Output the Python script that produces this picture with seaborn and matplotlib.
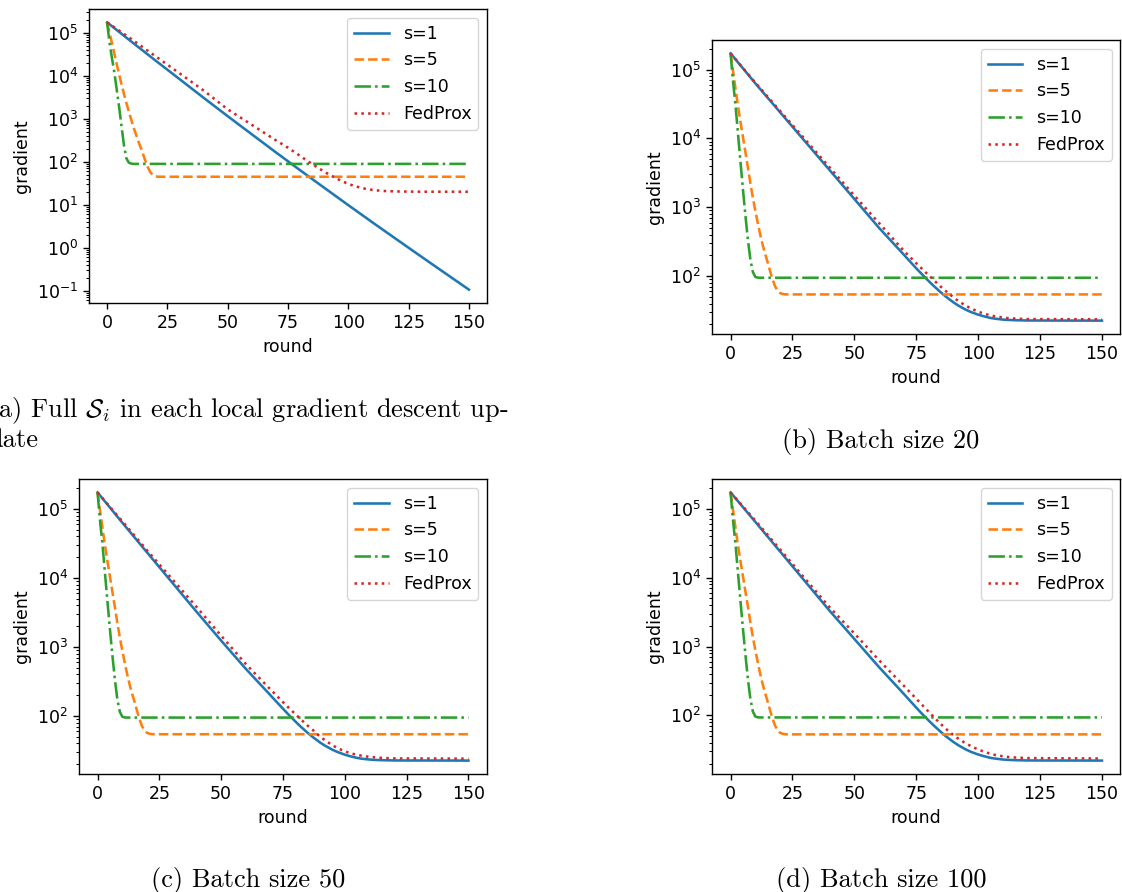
import matplotlib
matplotlib.use("Agg")
import matplotlib.pyplot as plt
import pandas as pd
import seaborn as sns

# ---------------------------------------------------------------------------
# Gradient norm per communication round (log scale), four local-update settings
# ---------------------------------------------------------------------------
LABELS = ["s=1", "s=5", "s=10", "FedProx"]
COLORS = ["#1f77b4", "#ff7f0e", "#2ca02c", "#d62728"]
STYLES = ["-", "--", "-.", ":"]

# round indices at which each curve is recorded
ROUNDS_S10 = [0, 1, 2, 3, 4, 5, 6, 7, 8, 9, 10, 11, 12, 150]
ROUNDS_S5 = [0, 1, 2, 3, 4, 5, 6, 7, 8, 9, 10, 11, 12, 13, 14, 15, 16, 17,
             18, 19, 20, 21, 22, 23, 150]
ROUNDS_S1_FULL = [0, 10, 20, 30, 40, 50, 60, 70, 80, 90, 100, 110, 120, 130,
                  140, 150]
ROUNDS_KNEE = [0, 10, 20, 30, 40, 50, 60, 70,
               72, 75, 77, 80, 82, 85, 87, 90, 92, 95, 97, 100, 102, 105, 107,
               110, 112, 115,
               120, 150]
ROUNDS_PROX_FULL = [0, 10, 20, 30, 40, 50, 60, 70,
                    72, 75, 77, 80, 82, 85, 87, 90, 92, 95, 97, 100, 102, 105,
                    107, 110, 112, 115,
                    120, 130, 150]

# (a) full local dataset
A_S1 = [1.76e5, 6.31e4, 2.29e4, 8.43e3, 3.09e3, 1.15e3, 435, 165, 63.5, 24.8,
        9.75, 3.87, 1.56, 0.631, 0.257, 0.105]
A_S5 = [1.76e5, 1.00e5, 5.89e4, 3.31e4, 1.86e4, 1.07e4, 6.31e3, 3.80e3,
        2.34e3, 1.48e3, 955, 631, 427, 295, 209, 145, 100, 72.4, 56.2, 49.0,
        45.7, 44.9, 44.7, 44.7, 44.7]
A_S10 = [1.76e5, 6.03e4, 2.63e4, 1.20e4, 4.79e3, 1.86e3, 661, 240, 120, 95.5,
         90.2, 89.1, 89.1, 89.1]
A_PROX = [1.76e5, 7.24e4, 2.88e4, 1.15e4, 4.57e3, 1.66e3, 724, 315,
          269, 212, 178.1, 137, 114.5, 88.5, 74.9, 58.9, 50.6, 41.0, 36.1,
          30.5, 27.8, 24.9, 23.5, 22.1, 21.45, 20.8,
          20.3, 20.05, 20.0]

# (b) batch size 20
B_S1 = [1.72e5, 6.31e4, 2.40e4, 9.12e3, 3.47e3, 1.32e3, 501, 205,
        170.5, 130, 109.4, 85.0, 72.4, 57.8, 50.3, 41.7, 37.4, 32.6, 30.2,
        27.6, 26.3, 24.7, 24.1, 23.4, 23.15, 22.9,
        22.7, 22.6]
B_S5 = [1.72e5, 9.55e4, 5.25e4, 2.95e4, 1.74e4, 1.05e4, 6.31e3, 3.80e3,
        2.24e3, 1.38e3, 891, 589, 398, 282, 209, 158, 117, 89.1, 70.8, 61.7,
        56.9, 55.2, 54.5, 54.3, 54.3]
B_S10 = [1.72e5, 6.76e4, 3.02e4, 1.17e4, 4.57e3, 1.82e3, 759, 339, 174, 115,
         97.7, 95.1, 94.8, 94.8]
B_PROX = [1.72e5, 6.46e4, 2.51e4, 9.77e3, 3.80e3, 1.48e3, 589, 233,
          197.4, 154, 131.1, 103, 88.1, 69.8, 60.5, 49.3, 43.6, 37.2, 34.1,
          30.5, 28.8, 26.9, 26.0, 25.1, 24.6, 24.2,
          23.8, 23.6]

# (c) batch size 50
C_S1 = [1.73e5, 6.31e4, 2.34e4, 8.71e3, 3.24e3, 1.23e3, 479, 198,
        165.3, 127, 106.5, 83.0, 70.7, 56.7, 49.5, 41.1, 37.0, 32.3, 30.0,
        27.4, 26.1, 24.6, 23.9, 23.3, 23.0, 22.8,
        22.6, 22.5]
C_S5 = [1.73e5, 9.55e4, 5.25e4, 2.95e4, 1.74e4, 1.05e4, 6.31e3, 3.80e3,
        2.24e3, 1.38e3, 891, 589, 398, 282, 209, 158, 117, 89.1, 70.8, 61.6,
        56.8, 55.1, 54.4, 54.2, 54.2]
C_S10 = [1.73e5, 6.76e4, 3.02e4, 1.17e4, 4.57e3, 1.82e3, 759, 339, 174, 115,
         97.4, 94.8, 94.5, 94.5]
C_PROX = [1.73e5, 6.61e4, 2.51e4, 9.77e3, 3.80e3, 1.45e3, 562, 240,
          203, 158, 134.4, 106, 90.6, 72.0, 62.8, 50.0, 44.3, 37.5, 34.2,
          30.6, 29.0, 27.2, 26.4, 25.4, 25.1, 24.6,
          24.2, 24.0]

# (d) batch size 100
D_S1 = [1.73e5, 6.46e4, 2.40e4, 8.91e3, 3.31e3, 1.29e3, 501, 205,
        170.6, 130, 108.6, 84.5, 71.8, 57.3, 49.8, 41.2, 36.9, 32.1, 29.7,
        27.1, 25.8, 24.2, 23.6, 22.9, 22.65, 22.4,
        22.2, 22.1]
D_S5 = [1.73e5, 9.55e4, 5.25e4, 2.95e4, 1.74e4, 1.05e4, 6.31e3, 3.80e3,
        2.24e3, 1.38e3, 891, 589, 398, 282, 209, 158, 117, 89.1, 70.8, 60.9,
        56.0, 54.2, 53.4, 53.1, 53.1]
D_S10 = [1.73e5, 6.76e4, 3.02e4, 1.17e4, 4.57e3, 1.82e3, 759, 339, 174, 114,
         96.5, 93.8, 93.5, 93.5]
D_PROX = [1.73e5, 6.76e4, 2.57e4, 9.77e3, 3.72e3, 1.55e3, 631, 269,
          226.1, 175, 147, 113, 95.4, 74.5, 63.8, 51.8, 46.0, 39.3, 36.0,
          32.0, 30.1, 27.7, 26.6, 25.5, 25.0, 24.5,
          24.0, 23.7]

X_TICKS = [0, 25, 50, 75, 100, 125, 150]

CAPTION_A = [r"(a) Full $\mathcal{S}_i$ in each local gradient descent up-",
             "date"]
CAPTION_B = "(b) Batch size 20"
CAPTION_C = "(c) Batch size 50"
CAPTION_D = "(d) Batch size 100"


def long_frame(s1, s5, s10, prox, rounds_s1, rounds_prox):
    parts = []
    for label, rounds, vals in zip(
            LABELS,
            [rounds_s1, ROUNDS_S5, ROUNDS_S10, rounds_prox],
            [s1, s5, s10, prox]):
        parts.append(pd.DataFrame({"round": rounds, "gradient": vals,
                                   "method": label}))
    return pd.concat(parts, ignore_index=True)


PANELS = [
    long_frame(A_S1, A_S5, A_S10, A_PROX, ROUNDS_S1_FULL, ROUNDS_PROX_FULL),
    long_frame(B_S1, B_S5, B_S10, B_PROX, ROUNDS_KNEE, ROUNDS_KNEE),
    long_frame(C_S1, C_S5, C_S10, C_PROX, ROUNDS_KNEE, ROUNDS_KNEE),
    long_frame(D_S1, D_S5, D_S10, D_PROX, ROUNDS_KNEE, ROUNDS_KNEE),
]

# ---------------------------------------------------------------------------
plt.rcParams.update({
    "font.size": 12.5,
    "axes.linewidth": 1.0,
    "xtick.major.width": 1.0,
    "ytick.major.width": 1.0,
    "ytick.minor.width": 0.75,
    "xtick.major.size": 4.4,
    "ytick.major.size": 4.4,
    "ytick.minor.size": 2.5,
    "lines.linewidth": 1.85,
    "legend.fontsize": 12.5,
})

W, H = 1122, 892
fig = plt.figure(figsize=(W / 100, H / 100), dpi=100)


def box(left, top, right, bottom):
    return [left / W, 1 - bottom / H, (right - left) / W, (bottom - top) / H]


AXES_BOXES = [box(89, 9, 487, 303), box(712, 40, 1120.5, 334),
              box(79, 479, 487, 774), box(712, 479, 1120.5, 774)]

for frame, rect in zip(PANELS, AXES_BOXES):
    ax = fig.add_axes(rect)
    ax.set_yscale("log")
    for label, color, ls in zip(LABELS, COLORS, STYLES):
        sub = frame[frame["method"] == label]
        sns.lineplot(data=sub, x="round", y="gradient", ax=ax, color=color,
                     linestyle=ls, label=label, estimator=None, sort=True)
    ax.set_xticks(X_TICKS)
    ax.set_xlabel("round")
    ax.set_ylabel("gradient")
    ax.legend(loc="upper right")

cap = dict(family="cmr10", fontsize=19, math_fontfamily="cm")
fig.text(-12 / W, 1 - 417 / H, CAPTION_A[0], ha="left", va="baseline", **cap)
fig.text(-12 / W, 1 - 447 / H, CAPTION_A[1], ha="left", va="baseline", **cap)
fig.text(881 / W, 1 - 448 / H, CAPTION_B, ha="center", va="baseline", **cap)
fig.text(248 / W, 1 - 887 / H, CAPTION_C, ha="center", va="baseline", **cap)
fig.text(881 / W, 1 - 887 / H, CAPTION_D, ha="center", va="baseline", **cap)

fig.savefig("out.png", dpi=100)
